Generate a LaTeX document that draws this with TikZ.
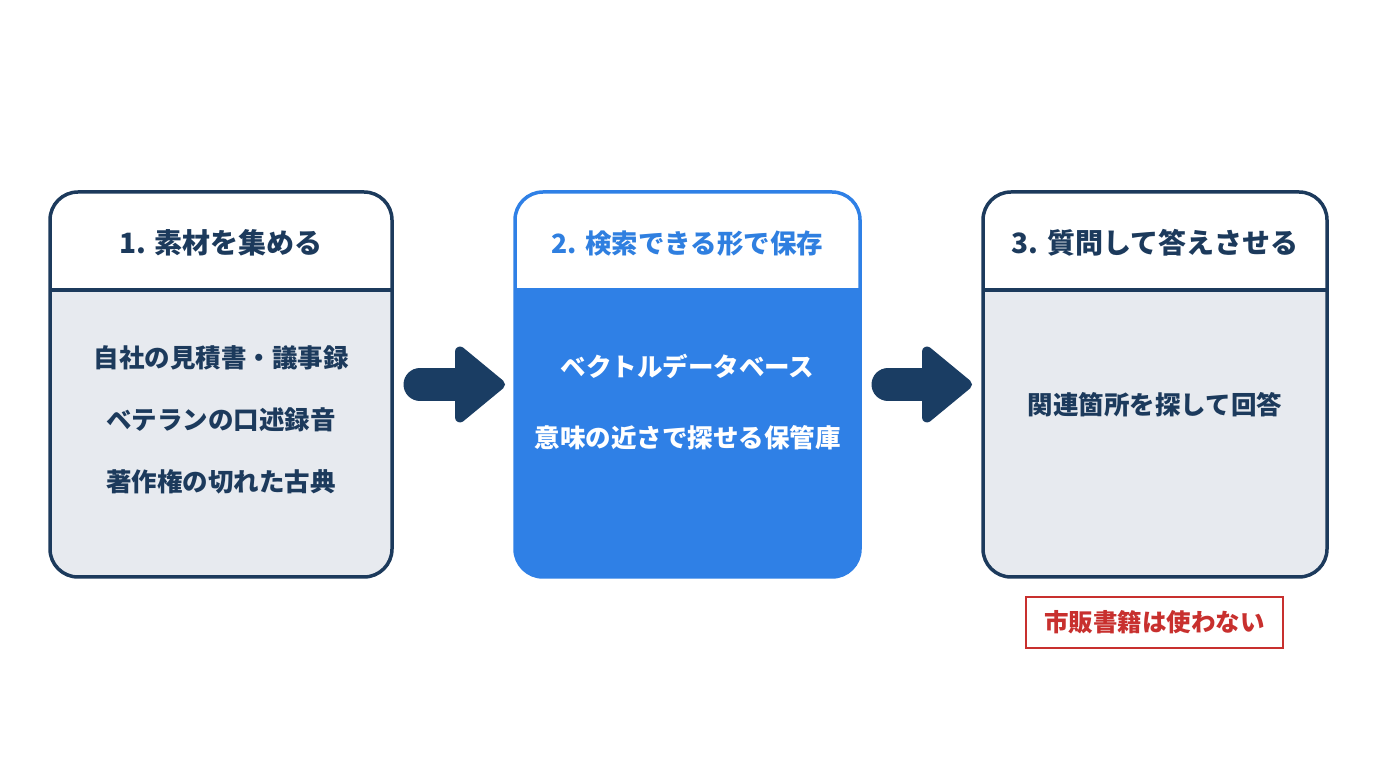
\documentclass[tikz,border=0pt]{standalone}
\usepackage{fontspec}
\setmainfont{Noto Sans CJK JP}
\usetikzlibrary{calc}
\definecolor{navy}{HTML}{1C3A5C}
\definecolor{arrowc}{HTML}{1A3D63}
\definecolor{panel}{HTML}{E7EAEF}
\definecolor{blue}{HTML}{2F80E6}
\definecolor{bluetext}{HTML}{2F7FE0}
\definecolor{warn}{HTML}{C8302E}
\tikzset{
  stage/.style={rectangle, rounded corners=28pt, line width=3.5pt, outer sep=0pt,
    minimum height=385pt, inner sep=0pt},
  head/.style={font=\fontsize{#1}{#1}\selectfont\bfseries, text height=22pt, text depth=2pt},
  item/.style={font=\fontsize{25.5}{25.5}\selectfont\bfseries, text height=22pt, text depth=2pt},
}
\newcommand\flowarrow[2]{%
  \draw[arrowc, line width=33pt, line cap=round] (#1) -- ([xshift=-30pt]#2);
  \filldraw[arrowc, line width=10pt, line join=round] ([xshift=-5pt]#2) -- ([xshift=-45pt,yshift=33pt]#2) -- ([xshift=-45pt,yshift=-33pt]#2) -- cycle;}
\begin{document}
\begin{tikzpicture}[x=1pt,y=1pt]
\useasboundingbox[fill=white] (0,0) rectangle (1376,768);
\node[stage, draw=navy, fill=panel, minimum width=342pt,
  path picture={\fill[white, sharp corners] (path picture bounding box.north west) rectangle ([yshift=-98pt]path picture bounding box.north east);
    \draw[navy, line width=3.5pt, sharp corners] ([yshift=-98pt]path picture bounding box.north west) -- ([yshift=-98pt]path picture bounding box.north east);}]
  (s1) at (221,383.5) {};
\node[stage, draw=blue, fill=blue, minimum width=345pt,
  path picture={\fill[white, sharp corners] (path picture bounding box.north west) rectangle ([yshift=-96pt]path picture bounding box.north east);}]
  (s2) at (687.5,383.5) {};
\node[stage, draw=navy, fill=panel, minimum width=344pt,
  path picture={\fill[white, sharp corners] (path picture bounding box.north west) rectangle ([yshift=-98pt]path picture bounding box.north east);
    \draw[navy, line width=3.5pt, sharp corners] ([yshift=-98pt]path picture bounding box.north west) -- ([yshift=-98pt]path picture bounding box.north east);}]
  (s3) at (1155,383.5) {};
\node[head=28, text=navy] (h1) at (221,524) {1. 素材を集める};
\node[head=26.5, text=bluetext] (h2) at (687.5,524) {2. 検索できる形で保存};
\node[head=28, text=navy] (h3) at (1155,524) {3. 質問して答えさせる};
\node[item, text=navy] (t11) at (221,410) {自社の見積書・議事録};
\node[item, text=navy] (t12) at (221,348) {ベテランの口述録音};
\node[item, text=navy] (t13) at (221,286) {著作権の切れた古典};
\node[item, text=white] (t21) at (687.5,401) {ベクトルデータベース};
\node[item, text=white] (t22) at (687.5,330) {意味の近さで探せる保管庫};
\node[item, text=navy] (t31) at (1155,363) {関連箇所を探して回答};
\node[draw=warn, line width=2pt, fill=white, text=warn, minimum width=257pt, minimum height=51pt,
  font=\fontsize{24.5}{24.5}\selectfont\bfseries, text height=21pt, text depth=2pt]
  (ng) at (1154.5,145.5) {市販書籍は使わない};
\coordinate (a1s) at ([xshift=28pt]s1.east);
\coordinate (a1e) at ([xshift=-10pt]s2.west);
\coordinate (a2s) at ([xshift=28pt]s2.east);
\coordinate (a2e) at ([xshift=-11pt]s3.west);
\flowarrow{a1s}{a1e}
\flowarrow{a2s}{a2e}
\end{tikzpicture}
\end{document}
